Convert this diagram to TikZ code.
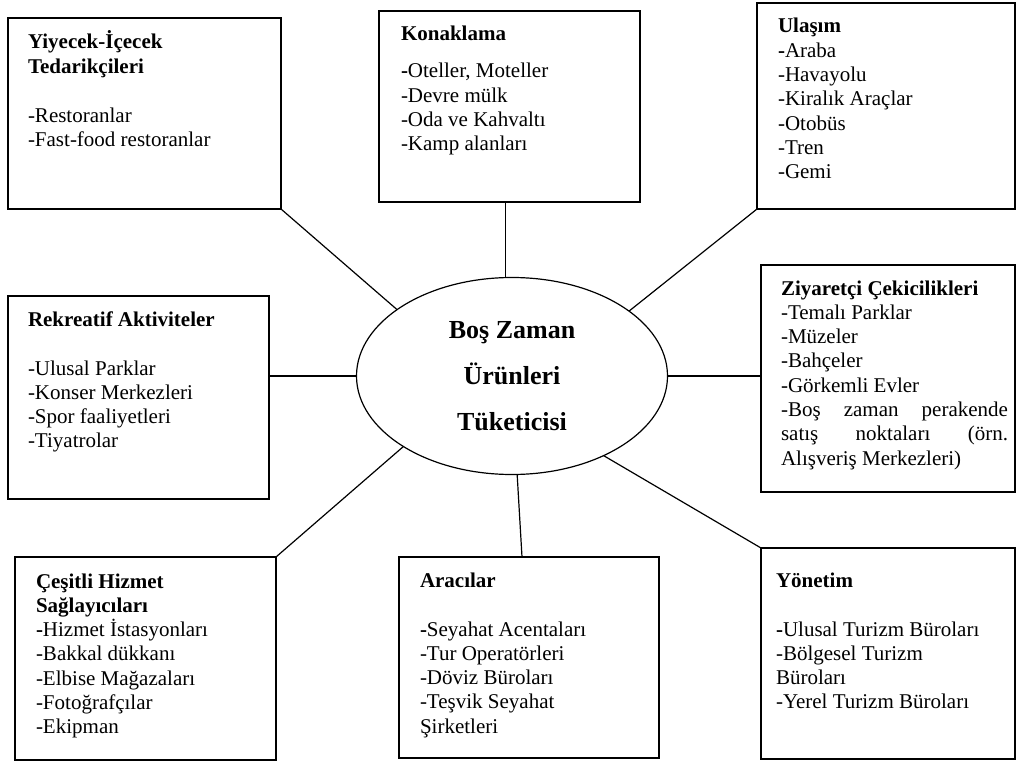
\documentclass[tikz,border=0pt]{standalone}
\usepackage{fontspec}
\setmainfont{Liberation Serif}
\usetikzlibrary{shapes.geometric,calc}

\tikzset{
  box/.style={draw, line width=1.2pt, inner sep=0pt, outer sep=0pt, anchor=north west},
  conn/.style={draw, line width=1.2pt},
  txt/.style={inner sep=0pt, outer sep=0pt, anchor=base west,
              font=\fontsize{21pt}{24.3pt}\selectfont},
  hub/.style={draw, ellipse, line width=1.2pt, inner sep=0pt, outer sep=0pt,
              minimum width=311pt, minimum height=197pt, align=center,
              font=\bfseries\fontsize{26pt}{46pt}\selectfont}
}
\newcommand{\itemlist}[2]{\parbox[t]{#1}{\raggedright #2}}
\newcommand{\fullline}[1]{\leavevmode\hbox to \linewidth{#1}}

\begin{document}
\begin{tikzpicture}[x=1pt,y=-1pt]
\useasboundingbox (0,0) rectangle (1017,762);

% central consumer ellipse
\node[hub] (c) at (512,376) {Boş Zaman\\Ürünleri\\Tüketicisi};

% surrounding supplier boxes
\node[box, minimum width=273pt, minimum height=191pt] (b1) at (8,18) {};
\node[box, minimum width=261pt, minimum height=191pt] (b2) at (379,11) {};
\node[box, minimum width=258pt, minimum height=206pt] (b3) at (757,3) {};
\node[box, minimum width=261pt, minimum height=203pt] (b4) at (8,296) {};
\node[box, minimum width=254pt, minimum height=227pt] (b5) at (761,265) {};
\node[box, minimum width=261pt, minimum height=203pt] (b6) at (15,557) {};
\node[box, minimum width=260pt, minimum height=201pt] (b7) at (399,557) {};
\node[box, minimum width=254pt, minimum height=211pt] (b8) at (761,548) {};

% box contents
\node[txt] (t1) at (28,49) {\itemlist{240pt}{%
  \textbf{Yiyecek-İçecek}\\
  \textbf{Tedarikçileri}\\[24.7pt]
  -Restoranlar\\
  -Fast-food restoranlar}};

\node[txt] (t2) at (401,41) {\itemlist{235pt}{%
  \textbf{Konaklama}\\[12.7pt]
  \textbf{-}Oteller, Moteller\\
  -Devre mülk\\
  -Oda ve Kahvaltı\\
  -Kamp alanları}};

\node[txt] (t3) at (778,33) {\itemlist{230pt}{%
  \textbf{Ulaşım}\\
  \textbf{-}Araba\\
  -Havayolu\\
  -Kiralık Araçlar\\
  -Otobüs\\
  -Tren\\
  -Gemi}};

\node[txt] (t4) at (28,326) {\itemlist{235pt}{%
  \textbf{Rekreatif Aktiviteler}\\[24.7pt]
  -Ulusal Parklar\\
  -Konser Merkezleri\\
  -Spor faaliyetleri\\
  -Tiyatrolar}};

\node[txt] (t5) at (781,295) {\itemlist{227pt}{%
  \textbf{Ziyaretçi Çekicilikleri}\\
  -Temalı Parklar\\
  -Müzeler\\
  -Bahçeler\\
  -Görkemli Evler\\
  \fullline{-Boş\hfill zaman\hfill perakende}\\
  \fullline{satış\hfill noktaları\hfill (örn.}\\
  Alışveriş Merkezleri)}};

\node[txt] (t6) at (36,588) {\itemlist{235pt}{%
  \textbf{Çeşitli Hizmet}\\
  \textbf{Sağlayıcıları}\\
  \textbf{-}Hizmet İstasyonları\\
  -Bakkal dükkanı\\
  -Elbise Mağazaları\\
  -Fotoğrafçılar\\
  -Ekipman}};

\node[txt] (t7) at (420,587) {\itemlist{235pt}{%
  \textbf{Aracılar}\\[24.7pt]
  \textbf{-}Seyahat Acentaları\\
  -Tur Operatörleri\\
  -Döviz Büroları\\
  -Teşvik Seyahat\\
  Şirketleri}};

\node[txt] (t8) at (776,587) {\itemlist{235pt}{%
  \textbf{Yönetim}\\[24.7pt]
  \textbf{-}Ulusal Turizm Büroları\\
  -Bölgesel Turizm\\
  Büroları\\
  -Yerel Turizm Büroları}};

% spokes from the ellipse to each box
\draw[conn] (b1.south east) -- (c.150.3);
\draw[conn] (c.94) -- (c.94 |- b2.south);
\draw[conn] (b3.south west) -- (c.29.9);
\draw[conn] (c.west) -- (c.west -| b4.east);
\draw[conn] (c.east) -- (c.east -| b5.west);
\draw[conn] (b6.north east) -- (c.213.2);
\draw[conn] (c.273.5) -- ($(b7.north)+(-7,0)$);
\draw[conn] (c.319.3) -- (b8.north west);
\end{tikzpicture}
\end{document}
